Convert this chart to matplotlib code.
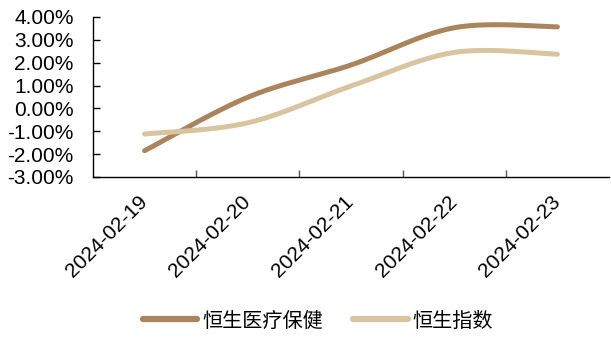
import numpy as np
import matplotlib
matplotlib.use("Agg")
import matplotlib.pyplot as plt
from matplotlib.lines import Line2D
from matplotlib.transforms import ScaledTranslation

plt.rcParams['font.family'] = ['Liberation Sans', 'Noto Sans CJK SC', 'DejaVu Sans']

dates = ["2024-02-19", "2024-02-20", "2024-02-21", "2024-02-22", "2024-02-23"]
healthcare = [-1.85, 0.49, 1.90, 3.53, 3.57]   # 恒生医疗保健, %
hsi = [-1.12, -0.63, 0.98, 2.45, 2.37]         # 恒生指数, %
series_names = ["恒生医疗保健", "恒生指数"]
colors = ["#AB845D", "#D8C59F"]


def smooth(xs, ys, n=40):
    """Cardinal (Catmull-Rom style) Bezier smoothing through the points."""
    xs = np.asarray(xs, float)
    ys = np.asarray(ys, float)
    px = np.concatenate([[xs[0]], xs, [xs[-1]]])
    py = np.concatenate([[ys[0]], ys, [ys[-1]]])
    outx, outy = [], []
    t = np.linspace(0, 1, n)
    for i in range(1, len(px) - 2):
        p0 = np.array([px[i - 1], py[i - 1]])
        p1 = np.array([px[i], py[i]])
        p2 = np.array([px[i + 1], py[i + 1]])
        p3 = np.array([px[i + 2], py[i + 2]])
        c1 = p1 + (p2 - p0) / 6
        c2 = p2 - (p3 - p1) / 6
        b = ((1 - t) ** 3)[:, None] * p1 + (3 * (1 - t) ** 2 * t)[:, None] * c1 \
            + (3 * (1 - t) * t ** 2)[:, None] * c2 + (t ** 3)[:, None] * p2
        outx.extend(b[:, 0])
        outy.extend(b[:, 1])
    return np.array(outx), np.array(outy)


fig = plt.figure(figsize=(6.11, 3.38), dpi=100)
ax = fig.add_axes([93 / 611, 1 - 177 / 338, (609 - 93) / 611, (177 - 17) / 338])

x = np.arange(len(dates))
for vals, col in zip([healthcare, hsi], colors):
    sx, sy = smooth(x, vals)
    ax.plot(sx, sy, color=col, lw=3.6, solid_capstyle='round')

ax.set_xlim(-0.5, len(dates) - 0.5)
ax.set_ylim(-3, 4)
yt = np.arange(-3, 5, 1)
ax.set_yticks(yt)
ax.set_yticklabels([f"{v:.2f}%" for v in yt], fontsize=15)
ax.tick_params(axis='y', direction='in', length=5, width=1, pad=14)

ax.set_xticks(x)
ax.set_xticklabels(dates, rotation=45, ha='right', rotation_mode='anchor', fontsize=15)
ax.set_xticks(np.arange(0.5, len(dates) - 1, 1), minor=True)
ax.tick_params(axis='x', which='major', length=0, pad=11)
ax.tick_params(axis='x', which='minor', direction='in', length=5, width=1, color='#555555')
shift = ScaledTranslation(-7 / 100, 0, fig.dpi_scale_trans)
for lab in ax.get_xticklabels():
    lab.set_transform(lab.get_transform() + shift)

for s in ['top', 'right']:
    ax.spines[s].set_visible(False)
ax.spines['left'].set_linewidth(1)
ax.spines['bottom'].set_linewidth(1)

handles = [Line2D([0], [0], color=c, lw=4.5, solid_capstyle='round') for c in colors]
fig.legend(handles, series_names, loc='center', bbox_to_anchor=(318 / 611, 1 - 321 / 338),
           ncol=2, frameon=False, handlelength=2.7, handletextpad=0.25, columnspacing=1.5,
           prop={'family': ['Noto Sans CJK SC'], 'size': 14.5})

fig.savefig("out.png", dpi=100)
